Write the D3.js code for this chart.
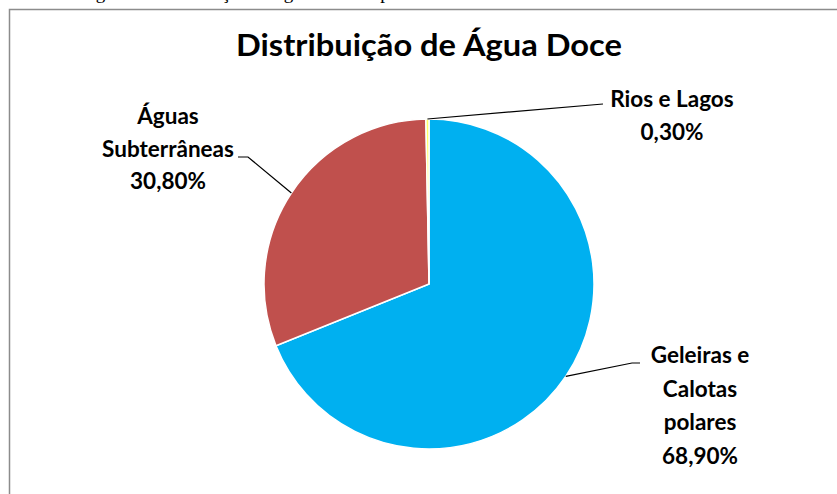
<!DOCTYPE html>
<html>
<head>
<meta charset="utf-8">
<script src="https://cdn.jsdelivr.net/npm/d3@7/dist/d3.min.js"></script>
<style>
  html, body { margin: 0; padding: 0; background: #fff; }
  svg { display: block; }
</style>
</head>
<body>
<script>
// Freshwater distribution on the planet (share of total fresh water)
const categories = ["Geleiras e Calotas polares", "Águas Subterrâneas", "Rios e Lagos"];
const values = [68.9, 30.8, 0.3];
const valueLabels = ["68,90%", "30,80%", "0,30%"];
const labelLines = [["Geleiras e", "Calotas", "polares"], ["Águas", "Subterrâneas"], ["Rios e Lagos"]];
const colors = ["#00b0f0", "#c0504d", "#ffff66"];

const W = 837, H = 494;
const cx = 429, cy = 284, R = 165;
const font = "Lato, 'Open Sans', sans-serif";

// label block anchors (centre x, first baseline y) and leader elbow points
const labelLayout = [
  { x: 700, y: 363, lh: 33.5, elbow: [640, 363], end: [632, 363] },
  { x: 168, y: 124, lh: 32.5, elbow: [238, 157], end: [248, 157] },
  { x: 672, y: 107, lh: 33, elbow: [603, 104], end: [603, 104] }
];

const svg = d3.select("body").append("svg")
  .attr("width", W).attr("height", H);

svg.append("rect").attr("width", W).attr("height", H).attr("fill", "#fff");

// figure caption above the chart frame (runs off the top edge)
svg.append("text")
  .attr("x", 80).attr("y", -1)
  .attr("font-family", "'Liberation Serif', 'Times New Roman', serif")
  .attr("font-size", 19)
  .attr("fill", "#000")
  .text("Figura 1: Distribuição da água doce no planeta");

// chart frame
svg.append("rect")
  .attr("x", 9.5).attr("y", 9.5)
  .attr("width", W).attr("height", H)
  .attr("fill", "#fff")
  .attr("stroke", "#8c8c8c").attr("stroke-width", 1.5);

// title
svg.append("text")
  .attr("x", 429).attr("y", 56)
  .attr("text-anchor", "middle")
  .attr("font-family", font).attr("font-weight", 700)
  .attr("font-size", 30)
  .attr("textLength", 386).attr("lengthAdjust", "spacingAndGlyphs")
  .attr("fill", "#000")
  .text("Distribuição de Água Doce");

const pie = d3.pie().sort(null).value(d => d)(values);
const arc = d3.arc().innerRadius(0).outerRadius(R);

const g = svg.append("g").attr("transform", `translate(${cx},${cy})`);
g.selectAll("path").data(pie).join("path")
  .attr("d", arc)
  .attr("fill", (d, i) => colors[i])
  .attr("stroke", "#fff").attr("stroke-width", 1.5)
  .attr("stroke-linejoin", "round");

// leader lines from the middle of each slice's rim to its label
pie.forEach((d, i) => {
  const a = (d.startAngle + d.endAngle) / 2;
  const px = cx + R * Math.sin(a), py = cy - R * Math.cos(a);
  const L = labelLayout[i];
  svg.append("polyline")
    .attr("points", [[px, py], L.end, L.elbow].map(p => p.join(",")).join(" "))
    .attr("fill", "none")
    .attr("stroke", "#000").attr("stroke-width", 1.2);
});

// data labels: category name lines followed by the percentage
labelLayout.forEach((L, i) => {
  const lines = labelLines[i].concat([valueLabels[i]]);
  const t = svg.append("text")
    .attr("text-anchor", "middle")
    .attr("font-family", font).attr("font-weight", 700)
    .attr("font-size", 22.5)
    .attr("fill", "#000");
  lines.forEach((s, k) => {
    t.append("tspan").attr("x", L.x).attr("y", L.y + k * L.lh).text(s);
  });
});
</script>
</body>
</html>
